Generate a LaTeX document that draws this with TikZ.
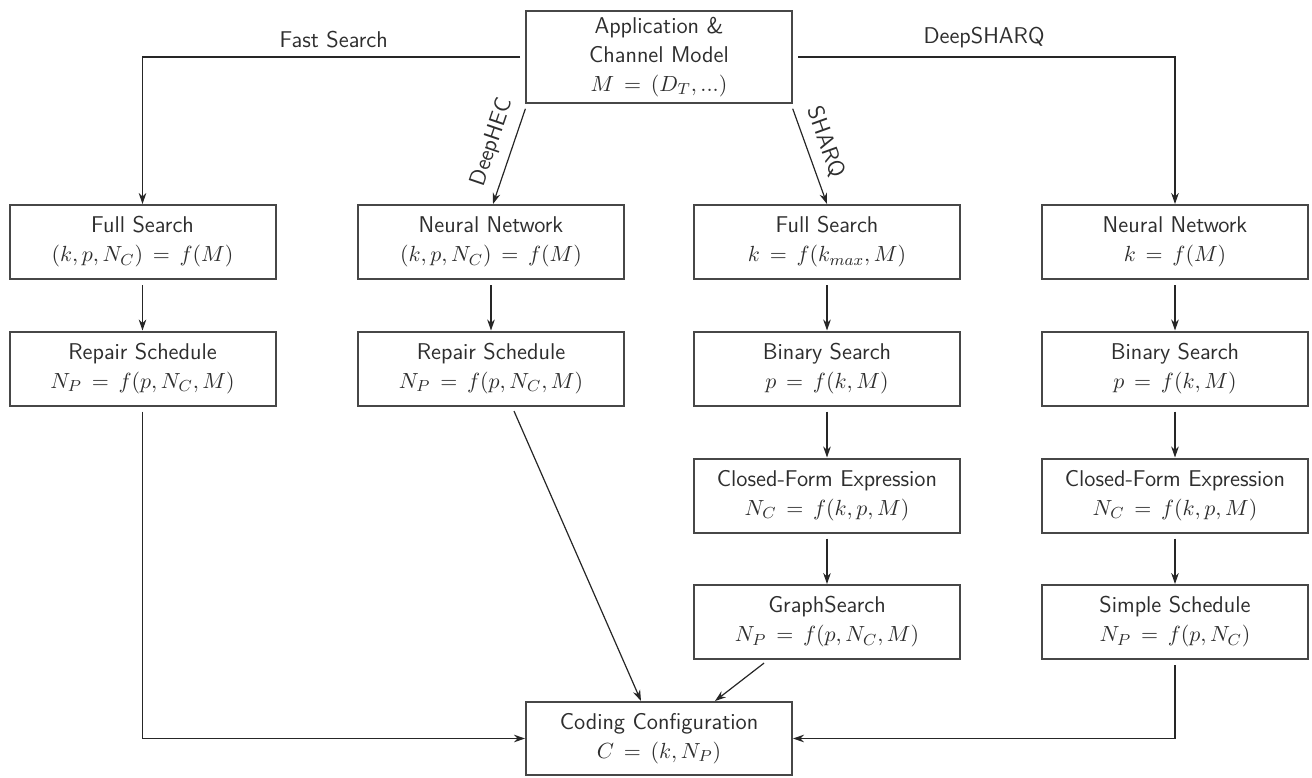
\documentclass[tikz,border=0pt]{standalone}
\usetikzlibrary{arrows.meta}
\begin{document}
\begin{tikzpicture}[x=0.5pt,y=-0.5pt,
  font=\sffamily\fontsize{11.4}{14.5}\selectfont]
\tikzset{
  box/.style={draw=black!72, line width=1pt, text=black!82, minimum width=133pt,
    minimum height=37pt, align=center, inner sep=2pt},
  conn/.style={draw=black!85, line width=0.6pt, shorten <=2.5pt,
    -{Stealth[length=5.5pt,width=3.8pt]}},
  lbl/.style={text=black!82}
}
\useasboundingbox (0,0) rectangle (1312,777);

\node[box, minimum height=46pt] (app) at (659,57) {Application \&\\Channel Model\\$M \,=\, (D_T, ...)$};

\node[box] (fs1) at (142.5,242) {Full Search\\$(k,p,N_C) \,=\, f(M)$};
\node[box] (rs1) at (142.5,368.5) {Repair Schedule\\$N_P \,=\, f(p,N_C,M)$};

\node[box] (nn2) at (491,242) {Neural Network\\$(k,p,N_C) \,=\, f(M)$};
\node[box] (rs2) at (491,368.5) {Repair Schedule\\$N_P \,=\, f(p,N_C,M)$};

\node[box] (fs3) at (827,242) {Full Search\\$k \,=\, f(k_{max},M)$};
\node[box] (bs3) at (827,368.5) {Binary Search\\$p \,=\, f(k,M)$};
\node[box] (cf3) at (827,495.5) {Closed-Form Expression\\$N_C \,=\, f(k,p,M)$};
\node[box] (gs3) at (827,622) {GraphSearch\\$N_P \,=\, f(p,N_C,M)$};

\node[box] (nn4) at (1175,242) {Neural Network\\$k \,=\, f(M)$};
\node[box] (bs4) at (1175,368.5) {Binary Search\\$p \,=\, f(k,M)$};
\node[box] (cf4) at (1175,495.5) {Closed-Form Expression\\$N_C \,=\, f(k,p,M)$};
\node[box] (ss4) at (1175,622) {Simple Schedule\\$N_P \,=\, f(p,N_C)$};

\node[box, minimum height=36.5pt] (cc) at (659,738.5) {Coding Configuration\\$C \,=\, (k,N_P)$};

% top branches
\draw[conn] (app.west) -| node[lbl, pos=0.25, above, yshift=1pt] {Fast Search} (fs1.north);
\draw[conn] (app.east) -| node[lbl, pos=0.25, above, yshift=1pt] {DeepSHARQ} (nn4.north);
\draw[conn] ([xshift=1pt]app.south west) -- node[lbl, sloped, above=1.5pt, pos=0.45] {DeepHEC} ([xshift=1pt]nn2.north);
\draw[conn] ([xshift=-1pt]app.south east) -- node[lbl, sloped, above=1.5pt, pos=0.45] {SHARQ} (fs3.north);

% columns
\draw[conn] (fs1) -- (rs1);
\draw[conn] (nn2) -- (rs2);
\draw[conn] (fs3) -- (bs3);
\draw[conn] (bs3) -- (cf3);
\draw[conn] (cf3) -- (gs3);
\draw[conn] (nn4) -- (bs4);
\draw[conn] (bs4) -- (cf4);
\draw[conn] (cf4) -- (ss4);

% to coding configuration
\draw[conn] (rs1.south) |- (cc.west);
\draw[conn] (ss4.south) |- (cc.east);
\draw[conn] ([xshift=10.5pt]rs2.south) -- ([xshift=-9pt]cc.north);
\draw[conn] ([xshift=-29.5pt]gs3.south) -- ([xshift=28pt]cc.north);
\end{tikzpicture}
\end{document}
